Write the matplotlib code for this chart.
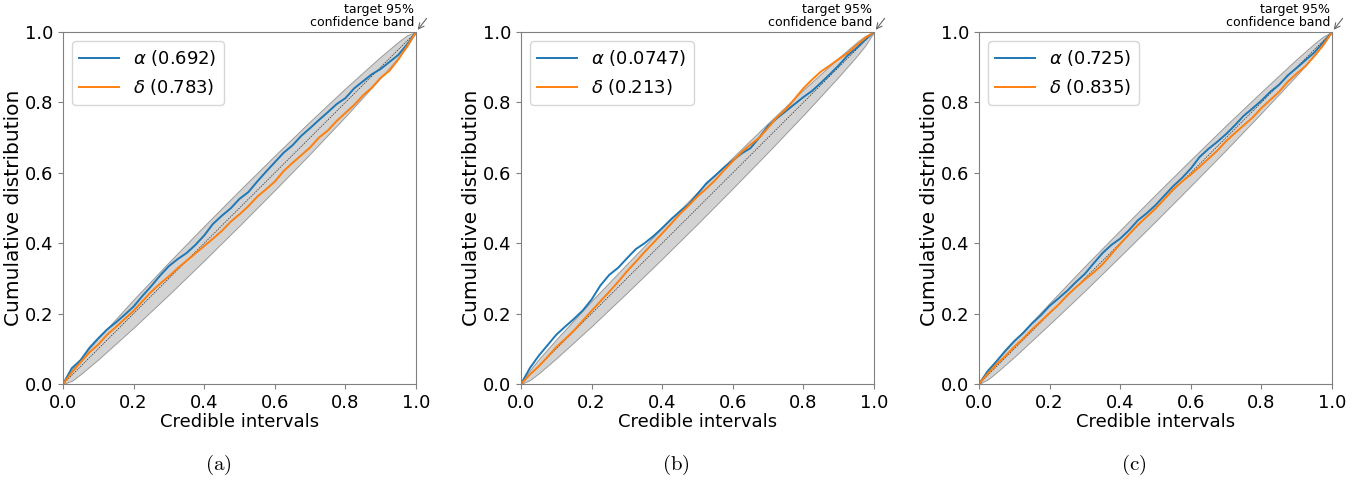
import numpy as np
import matplotlib
matplotlib.use('Agg')
import matplotlib.pyplot as plt

plt.rcParams['mathtext.fontset'] = 'dejavusans'

# credible interval grid (shared by all panels)
x = np.linspace(0, 1, 41)

# (a)
a_alpha = [0, .045, .068, .103, .13, .155, .175, .197, .22, .25, .278, .308, .335, .355, .372, .395,
           .422, .455, .478, .499, .526, .545, .575, .603, .63, .657, .678, .705, .727, .75, .772, .795,
           .812, .84, .86, .88, .895, .915, .935, .965, 1]
a_delta = [0, .033, .062, .09, .112, .14, .162, .185, .208, .235, .262, .285, .306, .329, .35, .371,
           .392, .413, .435, .461, .482, .505, .532, .553, .575, .605, .628, .65, .672, .7, .72, .747,
           .77, .793, .82, .842, .87, .89, .922, .96, 1]
# (b)
b_alpha = [0, .045, .08, .11, .14, .163, .185, .209, .24, .28, .31, .33, .357, .383, .4, .42,
           .443, .468, .49, .51, .54, .57, .592, .615, .635, .655, .67, .7, .733, .755, .775, .795,
           .815, .833, .856, .88, .905, .933, .954, .978, 1]
b_delta = [0, .027, .05, .077, .105, .128, .152, .18, .208, .235, .262, .29, .32, .347, .375, .401,
           .428, .455, .483, .507, .533, .555, .579, .607, .633, .659, .68, .7, .728, .758, .78, .81,
           .84, .865, .888, .905, .923, .94, .962, .983, 1]
# (c)
c_alpha = [0, .037, .065, .095, .122, .145, .172, .195, .222, .243, .265, .29, .313, .343, .372, .395,
           .413, .437, .465, .485, .508, .535, .562, .585, .612, .645, .668, .688, .71, .735, .762, .783,
           .805, .83, .85, .877, .898, .92, .942, .97, 1]
c_delta = [0, .03, .056, .08, .106, .129, .155, .178, .202, .225, .252, .275, .297, .317, .34, .369,
           .398, .425, .452, .475, .498, .525, .553, .575, .595, .617, .64, .663, .69, .713, .735, .757,
           .784, .807, .83, .859, .882, .903, .932, .963, 1]

p_alpha = ['0.692', '0.0747', '0.725']
p_delta = ['0.783', '0.213', '0.835']

# half-width of the 95% band
band_x = [0, .025, .05, .1, .2, .3, .4, .5, .6, .7, .8, .9, .95, .975, 1]
band_a = [0, .016, .022, .03, .04, .046, .049, .05, .049, .046, .04, .03, .022, .016, 0]
band_b = [0, .014, .02, .027, .036, .041, .044, .045, .044, .041, .036, .027, .02, .014, 0]
band_c = [0, .012, .017, .023, .03, .035, .037, .038, .037, .035, .03, .023, .017, .012, 0]

panels = [(a_alpha, a_delta, band_a), (b_alpha, b_delta, band_b), (c_alpha, c_delta, band_c)]
captions = ['(a)', '(b)', '(c)']
lefts = [63, 521, 979]

fig = plt.figure(figsize=(13.72, 4.83), dpi=100)

for i, (ya, yd, hw) in enumerate(panels):
    ax = fig.add_axes([lefts[i] / 1372, 99 / 483, 353 / 1372, 352 / 483])
    bx = np.array(band_x)
    hw = np.array(hw)
    ax.fill_between(bx, np.clip(bx - hw, 0, 1), np.clip(bx + hw, 0, 1),
                    facecolor='#d3d3d3', edgecolor='#9a9a9a', linewidth=0.7)
    ax.plot([0, 1], [0, 1], 'k--', linewidth=0.5, dashes=(2, 1.5), alpha=0.8)
    ax.plot(x, ya, color='#1f77b4', linewidth=1.4, label=r'$\alpha$ (' + p_alpha[i] + ')')
    ax.plot(x, yd, color='#ff7f0e', linewidth=1.4, label=r'$\delta$ (' + p_delta[i] + ')')
    ax.set_xlim(0, 1)
    ax.set_ylim(0, 1)
    ax.set_xticks(np.arange(0, 1.01, 0.2))
    ax.set_yticks(np.arange(0, 1.01, 0.2))
    ax.tick_params(labelsize=13, color='0.5')
    for s in ax.spines.values():
        s.set_color('0.5')
    ax.set_xlabel('Credible intervals', fontsize=13, labelpad=1)
    ax.set_ylabel('Cumulative distribution', fontsize=14.5, labelpad=1)
    ax.legend(loc='upper left', fontsize=13, handlelength=2.2)
    ax.text(0.995, 1.008, 'target 95%\nconfidence band', transform=ax.transAxes,
            ha='right', va='bottom', fontsize=9, multialignment='right', linespacing=1.0)
    ax.annotate('', xy=(1, 1), xytext=(1.035, 1.045), xycoords='axes fraction',
                arrowprops=dict(arrowstyle='->', color='0.4', lw=0.8), annotation_clip=False)
    fig.text((lefts[i] + 155) / 1372, 18 / 483, r'$\mathrm{' + captions[i] + '}$',
             ha='center', va='center', fontsize=15, math_fontfamily='cm')

fig.savefig('out.png', dpi=100)
